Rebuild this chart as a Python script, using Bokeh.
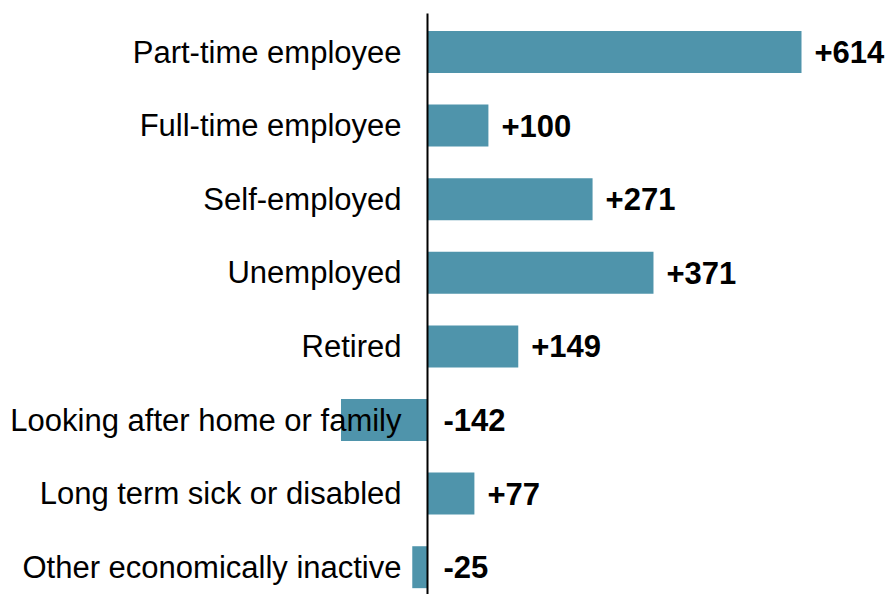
from bokeh.plotting import figure
from bokeh.models import ColumnDataSource, Range1d
from bokeh.embed import file_html
from bokeh.resources import INLINE
from bokeh.core.properties import value

categories = [
    "Part-time employee",
    "Full-time employee",
    "Self-employed",
    "Unemployed",
    "Retired",
    "Looking after home or family",
    "Long term sick or disabled",
    "Other economically inactive",
]
changes = [614, 100, 271, 371, 149, -142, 77, -25]
value_labels = ["+614", "+100", "+271", "+371", "+149", "-142", "+77", "-25"]

rows = list(range(len(categories)))
label_x = [max(v, 0) for v in changes]
label_off = [13 if v >= 0 else 16 for v in changes]

src = ColumnDataSource(dict(
    row=rows, cat=categories, val=changes, lab=value_labels,
    lx=label_x, loff=label_off,
))

W, H = 886, 594
ppu = 374 / 614.0          # pixels per unit
zero_px = 427              # zero line position inside the frame
x0 = -zero_px / ppu
x1 = x0 + W / ppu
row_h = 73.6
first_c = 51.5
y_top = -first_c / row_h
y_bot = (H - first_c) / row_h

p = figure(width=W, height=H, output_backend="svg", toolbar_location=None,
           x_range=Range1d(x0, x1), y_range=Range1d(y_bot, y_top),
           min_border=0, min_border_left=0, min_border_right=0,
           min_border_top=0, min_border_bottom=0)
p.axis.visible = False
p.grid.visible = False
p.outline_line_color = None
p.background_fill_color = "white"
p.border_fill_color = "white"

p.hbar(y="row", left=0, right="val", height=0.57, source=src,
       fill_color="#4f94ab", line_color=None)

# vertical zero line
p.segment(x0=[0], y0=[(13 - first_c) / row_h], x1=[0], y1=[y_bot],
          line_color="black", line_width=2)

# category labels (drawn in plot so bars may overlap them)
p.text(x=0, y="row", text="cat", source=src, x_offset=-26,
       text_align="right", text_baseline="middle",
       text_font=value("Liberation Sans"), text_font_size="31px",
       text_color="black")

# value labels
p.text(x="lx", y="row", text="lab", source=src, x_offset="loff",
       text_align="left", text_baseline="middle",
       text_font=value("Liberation Sans"), text_font_size="31px",
       text_font_style="bold", text_color="black")

open("out.html", "w").write(file_html(p, INLINE))
